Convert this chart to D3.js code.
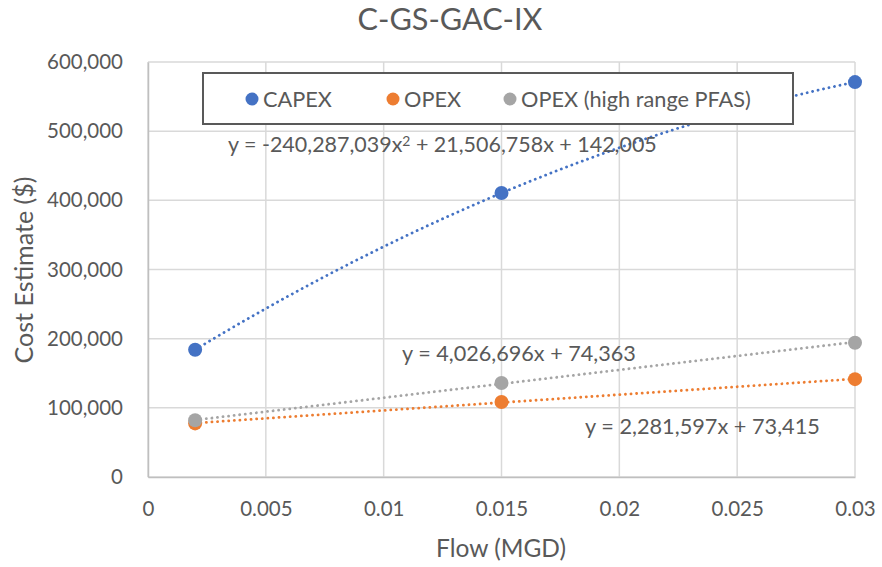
<!DOCTYPE html>
<html>
<head>
<meta charset="utf-8">
<script src="https://cdn.jsdelivr.net/npm/d3@7"></script>
<style>
  body { margin: 0; background: #fff; }
  text { font-family: Lato, "Open Sans", sans-serif; fill: #595959; }
</style>
</head>
<body>
<svg id="chart" width="882" height="567"></svg>
<script>
const flows = [0.002, 0.015, 0.03]
const capex = [184058, 410541, 570950]
const opex = [77500, 108500, 141500]
const opexHigh = [82000, 136000, 194000]

const seriesNames = ['CAPEX', 'OPEX', 'OPEX (high range PFAS)']
const seriesColors = ['#4472C4', '#ED7D31', '#A5A5A5']

// trendline coefficients as printed on the chart (highest power first)
const capexFit = [-240287039, 21506758, 142005]
const opexFit = [2281597, 73415]
const opexHighFit = [4026696, 74363]

const xTicks = [0, 0.005, 0.01, 0.015, 0.02, 0.025, 0.03]
const yTicks = [0, 100000, 200000, 300000, 400000, 500000, 600000]

const margin = { top: 62, right: 27, bottom: 90, left: 148 }
const width = 882 - margin.left - margin.right
const height = 567 - margin.top - margin.bottom

const svg = d3.select('#chart')
const g = svg.append('g').attr('transform', `translate(${margin.left},${margin.top})`)

const xScale = d3.scaleLinear().domain([0, 0.03]).range([0, width])
const yScale = d3.scaleLinear().domain([0, 600000]).range([height, 0])

// scale a text's font so it spans the width measured on the reference
function fitWidth (sel, w) {
  const len = sel.node().getComputedTextLength()
  const fs = parseFloat(sel.style('font-size'))
  const size = fs * w / len
  sel.style('font-size', size + 'px')
  return size
}

// gridlines
g.append('g')
  .selectAll('line')
  .data(yTicks)
  .join('line')
  .attr('x1', 0).attr('x2', width)
  .attr('y1', (d) => yScale(d)).attr('y2', (d) => yScale(d))
  .attr('stroke', '#D9D9D9').attr('stroke-width', 1.5)
g.append('g')
  .selectAll('line')
  .data(xTicks)
  .join('line')
  .attr('x1', (d) => xScale(d)).attr('x2', (d) => xScale(d))
  .attr('y1', 0).attr('y2', height)
  .attr('stroke', '#D9D9D9').attr('stroke-width', 1.5)

// axes (labels only, lines are gridlines)
const fmtY = d3.format(',')
const fmtX = (d) => d === 0 ? '0' : String(+d.toFixed(3))
const xAxis = d3.axisBottom(xScale).tickValues(xTicks).tickFormat(fmtX).tickSize(0)
const yAxis = d3.axisLeft(yScale).tickValues(yTicks).tickFormat(fmtY).tickSize(0).tickPadding(25)
const xAxisG = g.append('g').attr('transform', `translate(0,${height})`).call(xAxis)
const yAxisG = g.append('g').call(yAxis)
xAxisG.select('.domain').attr('stroke', '#BFBFBF').attr('stroke-width', 1.5)
yAxisG.select('.domain').attr('stroke', '#BFBFBF').attr('stroke-width', 1.5)
g.selectAll('.tick text')
  .style('font-family', 'Lato, sans-serif')
  .style('font-size', '18px')
  .attr('fill', '#595959')
const topLabel = yAxisG.selectAll('.tick text').filter((d) => d === 600000)
const tickSize = fitWidth(topLabel, 76)
g.selectAll('.tick text').style('font-size', tickSize + 'px')
xAxisG.selectAll('.tick text').attr('dy', null).attr('y', 38.5)

// trendlines
function poly (coefs, x) {
  return coefs.reduce((acc, c) => acc * x + c, 0)
}
const fits = [capexFit, opexFit, opexHighFit]
const xs = d3.range(0, 101).map((i) => flows[0] + (flows[2] - flows[0]) * i / 100)
const line = d3.line().x((d) => xScale(d[0])).y((d) => yScale(d[1]))
fits.forEach((coefs, i) => {
  g.append('path')
    .datum(xs.map((x) => [x, poly(coefs, x)]))
    .attr('d', line)
    .attr('fill', 'none')
    .attr('stroke', seriesColors[i])
    .attr('stroke-width', 2.8)
    .attr('stroke-linecap', 'round')
    .attr('stroke-dasharray', '0.1 5.5')
})

// points
const seriesData = [capex, opex, opexHigh]
seriesData.forEach((vals, i) => {
  g.append('g')
    .selectAll('circle')
    .data(vals)
    .join('circle')
    .attr('cx', (d, j) => xScale(flows[j]))
    .attr('cy', (d) => yScale(d))
    .attr('r', 7)
    .attr('fill', seriesColors[i])
})

// equation labels
const eq1 = svg.append('text').attr('x', 228).attr('y', 152).style('font-size', '20px')
eq1.append('tspan').text('y = -240,287,039x')
eq1.append('tspan').text('2').attr('dy', '-0.4em').style('font-size', '0.65em')
eq1.append('tspan').text(' + 21,506,758x + 142,005').attr('dy', '0.26em')
fitWidth(eq1, 429)
const eq2 = svg.append('text').attr('x', 402).attr('y', 361).style('font-size', '20px')
  .text('y = 4,026,696x + 74,363')
fitWidth(eq2, 234)
const eq3 = svg.append('text').attr('x', 585).attr('y', 434).style('font-size', '20px')
  .text('y = 2,281,597x + 73,415')
fitWidth(eq3, 235)

// legend
const legend = svg.append('g')
legend.append('rect')
  .attr('x', 203).attr('y', 73).attr('width', 590).attr('height', 51)
  .attr('fill', '#fff').attr('stroke', '#595959').attr('stroke-width', 2)
const legendX = [252, 393, 510]
const legendTexts = seriesNames.map((name, i) => {
  legend.append('circle').attr('cx', legendX[i]).attr('cy', 99).attr('r', 6.5).attr('fill', seriesColors[i])
  return legend.append('text').attr('x', legendX[i] + 11).attr('y', 106.5).style('font-size', '20px').text(name)
})
const legendSize = fitWidth(legendTexts[2], 230)
legendTexts.forEach((t) => t.style('font-size', legendSize + 'px'))

// titles
const title = svg.append('text').attr('x', 450).attr('y', 30).attr('text-anchor', 'middle')
  .style('font-size', '28px').text('C-GS-GAC-IX')
fitWidth(title, 185)
const xTitle = svg.append('text').attr('x', 501).attr('y', 557).attr('text-anchor', 'middle')
  .style('font-size', '22px').text('Flow (MGD)')
fitWidth(xTitle, 130)
const yTitle = svg.append('text').attr('transform', 'translate(33,270) rotate(-90)').attr('text-anchor', 'middle')
  .style('font-size', '22px').text('Cost Estimate ($)')
fitWidth(yTitle, 187)
</script>
</body>
</html>
